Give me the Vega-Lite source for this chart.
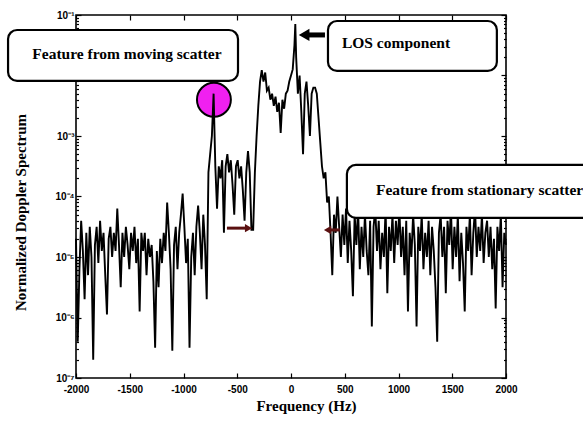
{
 "$schema": "https://vega.github.io/schema/vega-lite/v6.json",
 "width": 430, "height": 363,
 "autosize": "none",
 "padding": {"left": 76, "top": 15, "right": 77, "bottom": 52},
 "background": "white",
 "config": {
  "view": {"stroke": "#000", "strokeWidth": 1.6},
  "axis": {"labelFont": "Liberation Sans", "labelFontWeight": "bold", "labelFontSize": 10, "labelColor": "#000", "tickColor": "#000", "tickWidth": 1.2, "domain": false, "grid": false, "titleFont": "Liberation Serif", "titleFontWeight": "bold", "titleFontSize": 15, "titleColor": "#000", "labelOverlap": false, "labelFlush": false}
 },
 "datasets": {
  "spec": [
   {"f":-2000,"p":2e-5},{"f":-1984,"p":3.98e-7},{"f":-1968,"p":6.31e-6},{"f":-1952,"p":3.98e-5},{"f":-1936,"p":1.26e-5},{"f":-1920,"p":2e-6},{"f":-1904,"p":2.51e-5},{"f":-1888,"p":5.01e-6},{"f":-1872,"p":3.16e-5},{"f":-1856,"p":1e-5},
   {"f":-1840,"p":2e-7},{"f":-1824,"p":1.58e-5},{"f":-1808,"p":3.16e-5},{"f":-1792,"p":7.94e-6},{"f":-1776,"p":3.98e-5},{"f":-1760,"p":1.26e-5},{"f":-1744,"p":2.51e-5},{"f":-1728,"p":5.01e-6},{"f":-1712,"p":1.12e-6},{"f":-1696,"p":2e-5},
   {"f":-1680,"p":3.16e-5},{"f":-1664,"p":1e-5},{"f":-1648,"p":2.51e-5},{"f":-1632,"p":1.26e-5},{"f":-1616,"p":6.31e-5},{"f":-1600,"p":1.58e-5},{"f":-1584,"p":3.16e-6},{"f":-1568,"p":2.51e-5},{"f":-1552,"p":1e-5},{"f":-1536,"p":3.16e-5},
   {"f":-1520,"p":1.58e-5},{"f":-1504,"p":6.31e-6},{"f":-1488,"p":2.51e-5},{"f":-1472,"p":1.26e-5},{"f":-1456,"p":3.16e-5},{"f":-1440,"p":7.94e-6},{"f":-1424,"p":2e-5},{"f":-1408,"p":1.26e-6},{"f":-1392,"p":2.51e-5},{"f":-1376,"p":1.26e-5},
   {"f":-1360,"p":2.51e-5},{"f":-1344,"p":5.01e-6},{"f":-1328,"p":2e-5},{"f":-1312,"p":1e-5},{"f":-1296,"p":1.58e-5},{"f":-1280,"p":3.98e-6},{"f":-1264,"p":3.16e-7},{"f":-1248,"p":1.26e-5},{"f":-1232,"p":3.16e-6},{"f":-1216,"p":2e-5},
   {"f":-1200,"p":7.94e-6},{"f":-1184,"p":2.51e-5},{"f":-1168,"p":1.26e-5},{"f":-1152,"p":7.94e-5},{"f":-1136,"p":2.51e-5},{"f":-1120,"p":6.31e-6},{"f":-1104,"p":2.82e-7},{"f":-1088,"p":1.58e-5},{"f":-1072,"p":3.16e-5},{"f":-1056,"p":6.31e-6},
   {"f":-1040,"p":2.51e-5},{"f":-1024,"p":5.01e-5},{"f":-1008,"p":1.12e-4},{"f":-992,"p":3.16e-5},{"f":-976,"p":7.94e-6},{"f":-960,"p":2e-5},{"f":-944,"p":3.16e-7},{"f":-928,"p":1e-5},{"f":-912,"p":2.51e-5},{"f":-896,"p":5.01e-6},
   {"f":-880,"p":3.16e-5},{"f":-864,"p":7.08e-5},{"f":-848,"p":2.51e-5},{"f":-832,"p":6.31e-6},{"f":-816,"p":5.01e-5},{"f":-800,"p":1.58e-5},{"f":-784,"p":2e-6},{"f":-768,"p":2.51e-4},{"f":-752,"p":5.01e-4},{"f":-736,"p":1e-3},
   {"f":-720,"p":5.01e-3},{"f":-704,"p":3.16e-4},{"f":-688,"p":6.31e-5},{"f":-672,"p":3.16e-4},{"f":-656,"p":2e-4},{"f":-640,"p":3.98e-4},{"f":-624,"p":2.51e-5},{"f":-608,"p":3.16e-4},{"f":-592,"p":5.01e-4},{"f":-576,"p":2.51e-4},
   {"f":-560,"p":3.98e-4},{"f":-544,"p":1.58e-4},{"f":-528,"p":5.01e-5},{"f":-512,"p":3.16e-4},{"f":-496,"p":3.98e-4},{"f":-480,"p":2e-4},{"f":-464,"p":3.16e-4},{"f":-448,"p":1.26e-4},{"f":-432,"p":3.98e-5},{"f":-416,"p":2.51e-4},
   {"f":-400,"p":5.62e-4},{"f":-384,"p":2.51e-4},{"f":-368,"p":2.82e-5},{"f":-352,"p":2.82e-5},{"f":-336,"p":2.51e-4},{"f":-320,"p":1e-3},{"f":-304,"p":3.16e-3},{"f":-288,"p":7.94e-3},{"f":-272,"p":1.23e-2},{"f":-256,"p":7.94e-3},
   {"f":-240,"p":1.12e-2},{"f":-224,"p":5.62e-3},{"f":-208,"p":6.31e-3},{"f":-192,"p":3.98e-3},{"f":-176,"p":5.01e-3},{"f":-160,"p":3.16e-3},{"f":-144,"p":4.47e-3},{"f":-128,"p":2.51e-3},{"f":-112,"p":3.55e-3},{"f":-96,"p":1.12e-3},
   {"f":-80,"p":3.98e-3},{"f":-64,"p":2.82e-3},{"f":-48,"p":5.01e-3},{"f":-32,"p":5.62e-3},{"f":-16,"p":7.94e-3},{"f":0,"p":1e-2},{"f":16,"p":1.26e-2},{"f":32,"p":3.16e-2},{"f":40,"p":7.08e-2},{"f":48,"p":2e-2},
   {"f":64,"p":5.01e-3},{"f":80,"p":1e-2},{"f":96,"p":2.51e-3},{"f":112,"p":5.01e-4},{"f":128,"p":5.01e-3},{"f":144,"p":7.94e-3},{"f":160,"p":3.16e-3},{"f":176,"p":1e-3},{"f":192,"p":5.01e-3},{"f":208,"p":6.31e-3},
   {"f":224,"p":6.31e-3},{"f":240,"p":5.01e-3},{"f":256,"p":2e-3},{"f":272,"p":7.94e-4},{"f":288,"p":3.16e-4},{"f":304,"p":2e-4},{"f":320,"p":2.51e-4},{"f":336,"p":7.94e-5},{"f":352,"p":1e-4},{"f":368,"p":2.51e-5},
   {"f":384,"p":5.01e-6},{"f":400,"p":5.01e-5},{"f":416,"p":2.51e-5},{"f":432,"p":1e-4},{"f":448,"p":3.16e-5},{"f":464,"p":1e-5},{"f":480,"p":5.01e-5},{"f":496,"p":1.58e-5},{"f":512,"p":6.31e-5},{"f":528,"p":7.94e-6},
   {"f":544,"p":3.98e-5},{"f":560,"p":1.26e-5},{"f":576,"p":2.24e-6},{"f":592,"p":5.01e-5},{"f":608,"p":1.58e-5},{"f":624,"p":6.31e-5},{"f":640,"p":6.31e-6},{"f":656,"p":3.16e-5},{"f":672,"p":1e-5},{"f":688,"p":5.01e-5},
   {"f":704,"p":1.26e-5},{"f":720,"p":5.01e-6},{"f":736,"p":3.98e-5},{"f":752,"p":7.08e-7},{"f":768,"p":3.16e-5},{"f":784,"p":6.31e-5},{"f":800,"p":1.26e-5},{"f":816,"p":3.98e-5},{"f":832,"p":6.31e-6},{"f":848,"p":2.51e-5},
   {"f":864,"p":1e-5},{"f":880,"p":6.31e-5},{"f":896,"p":2.51e-6},{"f":912,"p":3.16e-5},{"f":928,"p":1.26e-5},{"f":944,"p":5.01e-5},{"f":960,"p":7.94e-6},{"f":976,"p":3.98e-5},{"f":992,"p":1.58e-5},{"f":1008,"p":6.31e-5},
   {"f":1024,"p":1e-5},{"f":1040,"p":3.16e-5},{"f":1056,"p":5.01e-6},{"f":1072,"p":3.98e-5},{"f":1088,"p":1.26e-6},{"f":1104,"p":2.51e-5},{"f":1120,"p":1e-5},{"f":1136,"p":5.01e-5},{"f":1152,"p":1.58e-5},{"f":1168,"p":7.08e-7},
   {"f":1184,"p":3.16e-5},{"f":1200,"p":1.26e-5},{"f":1216,"p":5.01e-5},{"f":1232,"p":6.31e-6},{"f":1248,"p":2.51e-5},{"f":1264,"p":1e-5},{"f":1280,"p":3.98e-5},{"f":1296,"p":5.01e-6},{"f":1312,"p":3.16e-5},{"f":1328,"p":1.26e-5},
   {"f":1344,"p":3.16e-6},{"f":1360,"p":3.98e-7},{"f":1376,"p":2.51e-5},{"f":1392,"p":5.01e-5},{"f":1408,"p":1e-5},{"f":1424,"p":3.16e-5},{"f":1440,"p":2.51e-6},{"f":1456,"p":3.98e-5},{"f":1472,"p":1.58e-5},{"f":1488,"p":6.31e-5},
   {"f":1504,"p":6.31e-6},{"f":1520,"p":3.16e-5},{"f":1536,"p":1e-5},{"f":1552,"p":5.01e-5},{"f":1568,"p":3.98e-6},{"f":1584,"p":2.51e-5},{"f":1600,"p":7.94e-6},{"f":1616,"p":1.26e-6},{"f":1632,"p":3.16e-5},{"f":1648,"p":1.26e-5},
   {"f":1664,"p":5.01e-5},{"f":1680,"p":5.01e-6},{"f":1696,"p":2.51e-5},{"f":1712,"p":6.31e-5},{"f":1728,"p":1e-5},{"f":1744,"p":3.16e-5},{"f":1760,"p":1.26e-5},{"f":1776,"p":5.01e-5},{"f":1792,"p":7.94e-6},{"f":1808,"p":2.51e-5},
   {"f":1824,"p":3.98e-5},{"f":1840,"p":1e-5},{"f":1856,"p":3.16e-5},{"f":1872,"p":6.31e-6},{"f":1888,"p":2e-5},{"f":1904,"p":1.41e-6},{"f":1920,"p":3.16e-5},{"f":1936,"p":1.26e-5},{"f":1952,"p":5.01e-5},{"f":1968,"p":3.16e-6},
   {"f":1984,"p":2.51e-5},{"f":2000,"p":1.58e-5}
  ],
  "marker": [{"f": -717, "p": 3.98e-3}],
  "boxes": [
   {"f": -2632, "f2": -493, "p": 5.65e-2, "p2": 8.13e-3},
   {"f": 344, "f2": 1915, "p": 7.96e-2, "p2": 1.19e-2},
   {"f": 520, "f2": 3200, "p": 3.32e-4, "p2": 4.42e-5}
  ],
  "losShaft": [{"f": 158, "f2": 316, "p": 4.68e-2}],
  "losHead": [{"f": 122, "p": 4.68e-2}],
  "redShaft": [{"f": -596, "f2": -419, "p": 3.0e-5}, {"f": 371, "f2": 455, "p": 2.8e-5}],
  "redHeadR": [{"f": -395, "p": 3.0e-5}],
  "redHeadL": [{"f": 340, "p": 2.8e-5}],
  "labelC": [{"f": -1526, "p": 2.26e-2, "t": "Feature from moving scatter"}],
  "labelL": [{"f": 474, "p": 3.44e-2, "t": "LOS component"}, {"f": 790, "p": 1.29e-4, "t": "Feature from stationary scatter"}]
 },
 "layer": [
  {
   "data": {"name": "marker"},
   "mark": {"type": "point", "shape": "circle", "filled": true, "size": 1150, "fill": "#f020f0", "stroke": "#000", "strokeWidth": 2, "opacity": 1},
   "encoding": {
    "x": {"field": "f", "type": "quantitative", "scale": {"domain": [-2000, 2000], "nice": false, "zero": false}, "axis": null},
    "y": {"field": "p", "type": "quantitative", "scale": {"type": "log", "domain": [1e-7, 1e-1], "nice": false}, "axis": null}
   }
  },
  {
   "data": {"name": "spec"},
   "mark": {"type": "line", "color": "#000", "strokeWidth": 1.9},
   "encoding": {
    "x": {"field": "f", "type": "quantitative", "scale": {"domain": [-2000, 2000], "nice": false, "zero": false},
     "axis": {"orient": "bottom", "values": [-2000, -1500, -1000, -500, 0, 500, 1000, 1500, 2000], "labelExpr": "'' + datum.value", "tickSize": -5, "labelPadding": 11, "title": "Frequency (Hz)", "titleX": 230, "titleY": 27, "titleBaseline": "middle", "titleAlign": "center"}},
    "y": {"field": "p", "type": "quantitative", "scale": {"type": "log", "domain": [1e-7, 1e-1], "nice": false},
     "axis": {"orient": "left", "values": [1e-7, 1e-6, 1e-5, 1e-4, 1e-3, 1e-2, 1e-1], "labelExpr": "'10⁻' + ['⁰','¹','²','³','⁴','⁵','⁶','⁷'][round(-log(datum.value)/LN10)]", "tickSize": -5, "labelPadding": 7, "title": "Normalized Doppler Spectrum", "titleX": -56, "titleY": 197, "titleAngle": -90, "titleBaseline": "middle", "titleAlign": "center"}}
   }
  },
  {
   "data": {"name": "spec"},
   "mark": {"type": "line", "opacity": 0},
   "encoding": {
    "x": {"field": "f", "type": "quantitative", "scale": {"domain": [-2000, 2000], "nice": false, "zero": false},
     "axis": {"orient": "top", "values": [-2000, -1500, -1000, -500, 0, 500, 1000, 1500, 2000], "labels": false, "tickSize": -5, "title": null}},
    "y": {"field": "p", "type": "quantitative", "scale": {"type": "log", "domain": [1e-7, 1e-1], "nice": false},
     "axis": {"orient": "right", "values": [1e-7, 1e-6, 1e-5, 1e-4, 1e-3, 1e-2, 1e-1], "labels": false, "tickSize": -5, "title": null}}
   }
  },
  {
   "data": {"name": "spec"},
   "mark": {"type": "line", "opacity": 0},
   "encoding": {
    "x": {"field": "f", "type": "quantitative", "scale": {"domain": [-2000, 2000], "nice": false, "zero": false}, "axis": null},
    "y": {"field": "p", "type": "quantitative", "scale": {"type": "log", "domain": [1e-7, 1e-1], "nice": false},
     "axis": {"orient": "left", "values": [2e-7,3e-7,4e-7,5e-7,6e-7,7e-7,8e-7,9e-7,2e-6,3e-6,4e-6,5e-6,6e-6,7e-6,8e-6,9e-6,2e-5,3e-5,4e-5,5e-5,6e-5,7e-5,8e-5,9e-5,2e-4,3e-4,4e-4,5e-4,6e-4,7e-4,8e-4,9e-4,2e-3,3e-3,4e-3,5e-3,6e-3,7e-3,8e-3,9e-3,2e-2,3e-2,4e-2,5e-2,6e-2,7e-2,8e-2,9e-2], "labels": false, "tickSize": -2.5, "title": null}}
   }
  },
  {
   "data": {"name": "spec"},
   "mark": {"type": "line", "opacity": 0},
   "encoding": {
    "x": {"field": "f", "type": "quantitative", "scale": {"domain": [-2000, 2000], "nice": false, "zero": false}, "axis": null},
    "y": {"field": "p", "type": "quantitative", "scale": {"type": "log", "domain": [1e-7, 1e-1], "nice": false},
     "axis": {"orient": "right", "values": [2e-7,3e-7,4e-7,5e-7,6e-7,7e-7,8e-7,9e-7,2e-6,3e-6,4e-6,5e-6,6e-6,7e-6,8e-6,9e-6,2e-5,3e-5,4e-5,5e-5,6e-5,7e-5,8e-5,9e-5,2e-4,3e-4,4e-4,5e-4,6e-4,7e-4,8e-4,9e-4,2e-3,3e-3,4e-3,5e-3,6e-3,7e-3,8e-3,9e-3,2e-2,3e-2,4e-2,5e-2,6e-2,7e-2,8e-2,9e-2], "labels": false, "tickSize": -2.5, "title": null}}
   }
  },
  {
   "data": {"name": "boxes"},
   "mark": {"type": "rect", "fill": "#fff", "stroke": "#000", "strokeWidth": 2.2, "cornerRadius": 9},
   "encoding": {
    "x": {"field": "f", "type": "quantitative", "scale": {"domain": [-2000, 2000], "nice": false, "zero": false}, "axis": null},
    "x2": {"field": "f2"},
    "y": {"field": "p", "type": "quantitative", "scale": {"type": "log", "domain": [1e-7, 1e-1], "nice": false}, "axis": null},
    "y2": {"field": "p2"}
   }
  },
  {
   "data": {"name": "losShaft"},
   "mark": {"type": "rule", "color": "#000", "strokeWidth": 5},
   "encoding": {
    "x": {"field": "f", "type": "quantitative", "scale": {"domain": [-2000, 2000], "nice": false, "zero": false}, "axis": null},
    "x2": {"field": "f2"},
    "y": {"field": "p", "type": "quantitative", "scale": {"type": "log", "domain": [1e-7, 1e-1], "nice": false}, "axis": null}
   }
  },
  {
   "data": {"name": "losHead"},
   "mark": {"type": "point", "shape": "triangle-left", "filled": true, "size": 150, "color": "#000", "opacity": 1},
   "encoding": {
    "x": {"field": "f", "type": "quantitative", "scale": {"domain": [-2000, 2000], "nice": false, "zero": false}, "axis": null},
    "y": {"field": "p", "type": "quantitative", "scale": {"type": "log", "domain": [1e-7, 1e-1], "nice": false}, "axis": null}
   }
  },
  {
   "data": {"name": "redShaft"},
   "mark": {"type": "rule", "color": "#5a1010", "strokeWidth": 3},
   "encoding": {
    "x": {"field": "f", "type": "quantitative", "scale": {"domain": [-2000, 2000], "nice": false, "zero": false}, "axis": null},
    "x2": {"field": "f2"},
    "y": {"field": "p", "type": "quantitative", "scale": {"type": "log", "domain": [1e-7, 1e-1], "nice": false}, "axis": null}
   }
  },
  {
   "data": {"name": "redHeadR"},
   "mark": {"type": "point", "shape": "triangle-right", "filled": true, "size": 70, "color": "#5a1010", "opacity": 1},
   "encoding": {
    "x": {"field": "f", "type": "quantitative", "scale": {"domain": [-2000, 2000], "nice": false, "zero": false}, "axis": null},
    "y": {"field": "p", "type": "quantitative", "scale": {"type": "log", "domain": [1e-7, 1e-1], "nice": false}, "axis": null}
   }
  },
  {
   "data": {"name": "redHeadL"},
   "mark": {"type": "point", "shape": "triangle-left", "filled": true, "size": 70, "color": "#5a1010", "opacity": 1},
   "encoding": {
    "x": {"field": "f", "type": "quantitative", "scale": {"domain": [-2000, 2000], "nice": false, "zero": false}, "axis": null},
    "y": {"field": "p", "type": "quantitative", "scale": {"type": "log", "domain": [1e-7, 1e-1], "nice": false}, "axis": null}
   }
  },
  {
   "data": {"name": "labelC"},
   "mark": {"type": "text", "font": "Liberation Serif", "fontWeight": "bold", "fontSize": 15.5, "color": "#000", "align": "center", "baseline": "middle"},
   "encoding": {
    "x": {"field": "f", "type": "quantitative", "scale": {"domain": [-2000, 2000], "nice": false, "zero": false}, "axis": null},
    "y": {"field": "p", "type": "quantitative", "scale": {"type": "log", "domain": [1e-7, 1e-1], "nice": false}, "axis": null},
    "text": {"field": "t"}
   }
  },
  {
   "data": {"name": "labelL"},
   "mark": {"type": "text", "font": "Liberation Serif", "fontWeight": "bold", "fontSize": 15.5, "color": "#000", "align": "left", "baseline": "middle"},
   "encoding": {
    "x": {"field": "f", "type": "quantitative", "scale": {"domain": [-2000, 2000], "nice": false, "zero": false}, "axis": null},
    "y": {"field": "p", "type": "quantitative", "scale": {"type": "log", "domain": [1e-7, 1e-1], "nice": false}, "axis": null},
    "text": {"field": "t"}
   }
  }
 ]
}
